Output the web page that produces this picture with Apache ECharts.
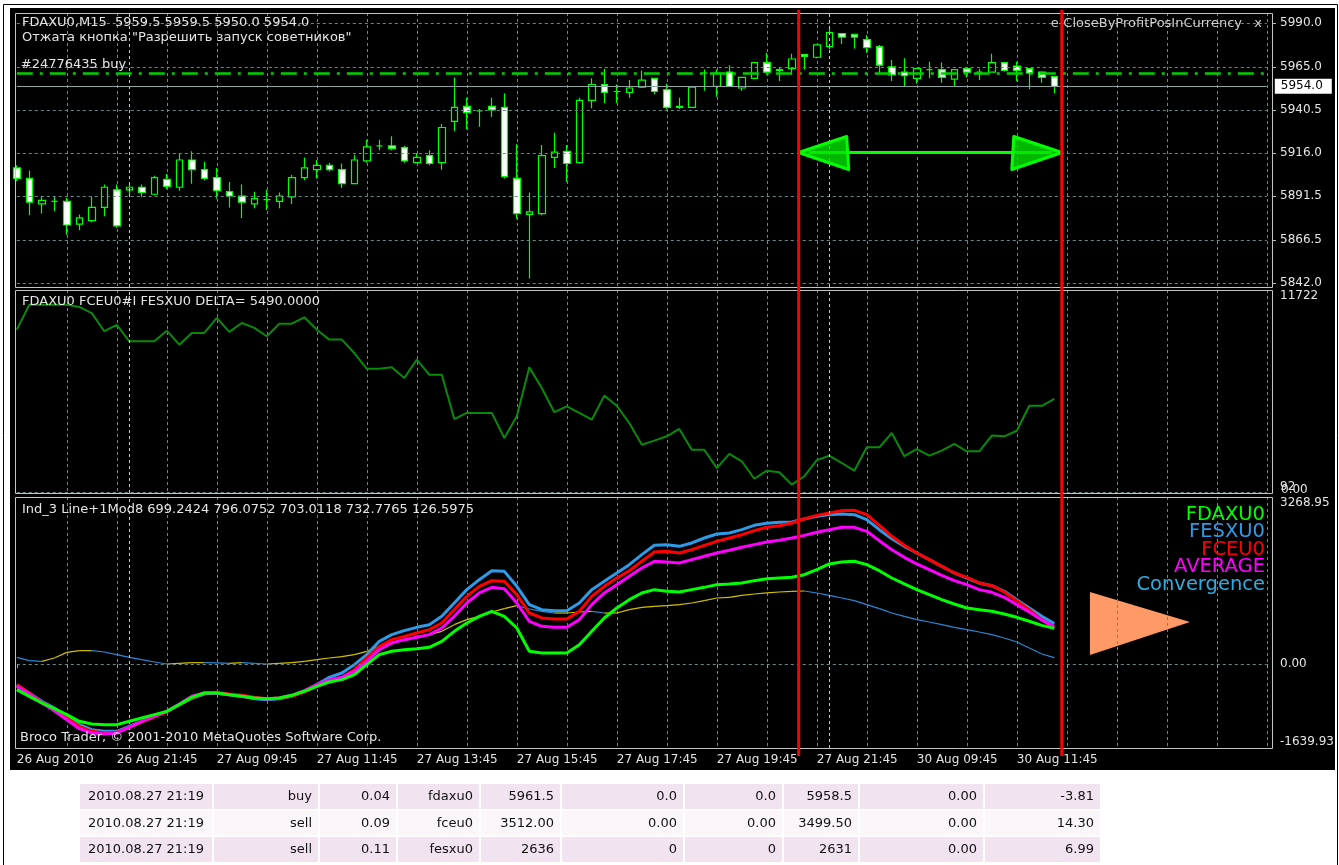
<!DOCTYPE html>
<html>
<head>
<meta charset="utf-8">
<script src="https://cdn.jsdelivr.net/npm/echarts@6/dist/echarts.min.js"></script>
<style>
  html, body { margin: 0; padding: 0; background: #ffffff; }
  #chart { width: 1339px; height: 865px; }
</style>
</head>
<body>
<div id="chart"></div>
<script>
// ---------- FDAXU0, M15 bars (open / high / low / close) ----------
const opens = [5907.5,5901.5,5887.0,5888.5,5888.5,5875.5,5877.5,5885.0,5895.0,5895.0,
  5896.5,5892.5,5901.0,5896.5,5912.0,5906.5,5902.0,5894.0,5891.5,5887.0,
  5889.5,5888.5,5891.0,5902.0,5906.5,5909.0,5906.5,5898.5,5911.5,5920.0,
  5920.0,5919.0,5910.5,5914.5,5910.5,5934.0,5942.5,5940.0,5942.5,5942.0,
  5901.5,5881.0,5881.5,5913.5,5917.0,5910.5,5946.0,5955.0,5951.0,5950.5,
  5953.5,5958.5,5952.0,5942.0,5942.0,5961.5,5954.0,5962.0,5953.0,5958.5,
  5967.5,5963.5,5964.0,5972.0,5970.5,5976.5,5984.0,5983.5,5980.5,5976.5,
  5965.0,5962.0,5958.5,5963.5,5963.5,5958.0,5964.0,5962.0,5962.0,5967.5,
  5965.5,5964.0,5962.0,5959.5];
const highs = [5909.0,5906.0,5891.0,5891.0,5890.5,5881.0,5891.0,5898.0,5898.0,5898.0,
  5898.0,5903.0,5904.0,5915.5,5917.0,5911.0,5907.5,5899.5,5898.0,5894.0,
  5895.0,5893.5,5903.5,5913.5,5912.0,5910.5,5910.0,5915.0,5923.5,5923.5,
  5925.5,5920.0,5916.0,5917.5,5932.5,5959.0,5947.5,5941.0,5947.5,5950.0,
  5921.0,5893.5,5920.5,5927.5,5920.5,5947.5,5958.5,5964.0,5955.0,5957.5,
  5963.0,5958.5,5955.5,5947.5,5953.5,5963.5,5963.5,5966.0,5959.0,5968.0,
  5973.0,5965.0,5972.5,5972.0,5977.5,5987.5,5984.0,5983.5,5983.0,5977.5,
  5969.0,5970.0,5964.0,5968.0,5967.5,5963.5,5965.0,5964.0,5972.5,5967.5,
  5968.0,5964.0,5962.5,5959.5];
const lows = [5900.0,5880.5,5881.5,5883.0,5869.5,5872.0,5876.5,5880.0,5873.5,5892.0,
  5891.0,5892.0,5895.5,5894.5,5898.5,5900.5,5890.0,5885.0,5879.0,5884.5,
  5883.5,5884.5,5887.0,5900.5,5901.5,5905.5,5896.0,5898.5,5910.5,5917.5,
  5917.5,5910.5,5910.5,5909.0,5906.5,5928.5,5929.5,5931.0,5936.5,5901.5,
  5878.5,5844.5,5880.5,5907.5,5899.5,5910.0,5941.5,5944.5,5944.5,5947.5,
  5953.0,5949.5,5941.0,5941.0,5942.0,5951.5,5948.0,5954.0,5951.5,5958.0,
  5961.5,5957.0,5960.5,5963.5,5970.0,5975.0,5978.0,5975.5,5973.0,5961.5,
  5957.0,5954.0,5955.5,5958.5,5956.0,5954.0,5959.0,5957.5,5962.0,5962.5,
  5957.0,5952.5,5956.0,5950.0];
const closes = [5901.5,5888.0,5889.0,5888.5,5875.0,5879.0,5885.0,5896.5,5874.5,5896.5,
  5893.5,5902.0,5897.0,5912.0,5906.5,5901.5,5894.5,5891.5,5888.0,5890.0,
  5889.5,5891.5,5902.0,5907.5,5909.0,5906.5,5898.5,5912.0,5919.5,5920.0,
  5918.5,5911.5,5913.5,5910.0,5930.5,5942.0,5939.0,5940.0,5940.5,5902.5,
  5881.5,5882.5,5914.5,5916.5,5910.0,5946.0,5955.0,5950.5,5951.0,5953.0,
  5957.5,5951.0,5942.0,5942.5,5953.5,5961.5,5961.5,5954.0,5959.0,5967.5,
  5962.0,5963.0,5969.5,5971.0,5977.5,5984.5,5982.0,5982.0,5976.0,5966.0,
  5960.5,5960.0,5964.0,5963.5,5959.0,5963.5,5962.0,5962.0,5967.5,5963.0,
  5963.0,5961.5,5959.0,5954.0];

// ---------- FDAXU0 FCEU0#I FESXU0 DELTA ----------
const deltaValues = [9450,10880,10880,10880,10880,10750,10400,9360,9730,8780,
  8780,8780,9390,8590,9260,9260,10120,9320,9830,9550,
  9070,9790,9790,10160,9450,8880,8880,8110,7210,7210,
  7290,6680,7730,6870,6870,4330,4680,4680,4680,3240,
  4490,7290,6110,4720,5060,4680,4290,5670,5090,4100,
  2860,3090,3340,3760,2570,2570,1520,2330,1910,910,
  1370,1280,570,1050,1970,2230,1810,1370,2710,2710,
  3530,2200,2610,2230,2520,2900,2480,2480,3380,3340,
  3660,5090,5090,5490];
const deltaRange = [92, 11722];

// ---------- Ind_3 Line+1Mod8 ----------
const fdaxu0 = [-499,-629,-760,-871,-988,-1118,-1170,-1183,-1183,-1118,
  -1053,-988,-923,-792,-649,-564,-564,-597,-629,-662,
  -675,-662,-610,-531,-434,-349,-303,-206,-10,186,
  251,283,303,329,446,642,805,935,1033,935,
  707,251,218,218,218,381,642,903,1098,1261,
  1392,1457,1424,1411,1457,1502,1555,1568,1587,1633,
  1672,1685,1698,1750,1848,1959,1998,2011,1946,1828,
  1685,1568,1457,1359,1261,1177,1098,1066,1033,981,
  916,838,759,699.2424];
const fesxu0 = [-401,-564,-727,-857,-1020,-1183,-1281,-1314,-1314,-1216,
  -1118,-1020,-923,-792,-675,-584,-564,-597,-629,-675,
  -694,-675,-629,-531,-401,-258,-173,-10,186,446,
  577,655,720,772,935,1196,1457,1652,1828,1815,
  1522,1164,1066,1046,1046,1196,1457,1620,1783,1946,
  2141,2324,2337,2304,2370,2467,2546,2565,2630,2715,
  2754,2774,2780,2839,2891,2924,2937,2924,2826,2630,
  2454,2304,2174,2044,1913,1783,1685,1587,1535,1424,
  1261,1098,935,796.0752];
const fceu0 = [-401,-564,-747,-890,-1053,-1216,-1314,-1346,-1333,-1236,
  -1131,-1033,-936,-792,-662,-564,-551,-584,-610,-649,
  -675,-662,-629,-545,-434,-323,-258,-108,120,349,
  479,544,609,675,805,1066,1326,1522,1633,1620,
  1359,1000,903,883,883,1033,1326,1522,1685,1828,
  2011,2193,2206,2174,2239,2324,2402,2467,2532,2611,
  2676,2708,2761,2839,2910,2956,3002,3008,2924,2715,
  2500,2324,2174,2044,1913,1783,1698,1587,1535,1411,
  1242,1066,870,703.0118];
const average = [-434,-584,-760,-910,-1086,-1262,-1346,-1366,-1346,-1236,
  -1118,-1020,-923,-779,-629,-564,-564,-597,-629,-662,
  -681,-662,-610,-518,-401,-310,-258,-140,55,283,
  414,479,525,577,707,935,1196,1392,1502,1476,
  1196,838,740,720,720,870,1164,1392,1555,1718,
  1881,2011,1998,1978,2044,2109,2174,2226,2285,2337,
  2389,2422,2467,2519,2578,2630,2676,2676,2598,2415,
  2239,2089,1959,1848,1737,1633,1555,1457,1405,1307,
  1164,1020,864,732.7765];
const convergence = [133,68,55,120,231,264,264,238,186,133,
  88,42,3,16,29,29,23,16,29,16,
  3,16,29,55,88,120,146,186,251,349,
  427,479,525,577,642,772,870,935,1020,1085,
  1144,1079,1033,1000,1000,1020,1033,1000,1000,1066,
  1111,1131,1144,1164,1196,1242,1294,1307,1346,1372,
  1392,1411,1424,1431,1392,1346,1294,1242,1164,1085,
  1000,935,870,824,772,720,675,629,577,512,
  433,316,199,126.5975];
const indRange = [-1639.93, 3268.95];

// ---------- axes, levels, annotations ----------
const timeTickLabels = ['26 Aug 2010','26 Aug 21:45','27 Aug 09:45','27 Aug 11:45','27 Aug 13:45',
  '27 Aug 15:45','27 Aug 17:45','27 Aug 19:45','27 Aug 21:45','30 Aug 09:45','30 Aug 11:45'];
const priceTicks = [5842.0, 5866.5, 5891.5, 5916.0, 5940.5, 5965.0, 5990.0];
const priceRange = [5839.7, 5995.7];
const lastPrice = 5954.0;
const orderPrice = 5961.5;
const orderLabel = '#24776435 buy';
const sessionStarts = [9, 65];          // first bar of a new trading day
const closeMarkers = [62.55, 83.6];     // vertical lines, in bar units
const arrowLevel = 5916.3;
const pointerTriangle = [[85.85, 1411], [85.85, 179], [93.85, 824]];

const legendNames = ['FDAXU0', 'FESXU0', 'FCEU0', 'AVERAGE', 'Convergence'];
const tradeRows = [
  ['2010.08.27 21:19', 'buy',  '0.04', 'fdaxu0', '5961.5',  '0.0',  '0.0',  '5958.5',  '0.00', '-3.81'],
  ['2010.08.27 21:19', 'sell', '0.09', 'fceu0',  '3512.00', '0.00', '0.00', '3499.50', '0.00', '14.30'],
  ['2010.08.27 21:19', 'sell', '0.11', 'fesxu0', '2636',    '0',    '0',    '2631',    '0.00', '6.99']
];

// ---------- bar time axis (08:00-22:00 sessions, plus empty space on the right) ----------
const sessions = [['26 Aug', 19 * 60 + 45, 9], ['27 Aug', 8 * 60, 56], ['30 Aug', 8 * 60, 36]];
const categories = [];
sessions.forEach(([day, start, n]) => {
  for (let k = 0; k < n; k++) {
    const m = start + 15 * k;
    categories.push(day + ' ' + String(Math.floor(m / 60)).padStart(2, '0') + ':' + String(m % 60).padStart(2, '0'));
  }
});

// ---------- look ----------
const FONT = '"DejaVu Sans", Verdana, sans-serif';
const TXT = '#e4e4e4';
const GRIDC = '#668a8a';
const SEPC = '#c8c8c8';
const FRAMEC = '#c4c4c4';
const COL = { fdax: '#00ff00', fesx: '#2f9be8', fceu: '#ff0000', avg: '#ff00ff', up: '#d2c200', down: '#2a8ad8' };

const PANEL_L = 15, PANEL_R = 1272;
const gridLeft = 16.8, gridWidth = 1250;
const panels = [[13, 274], [290, 203], [497, 251]];

const chart = echarts.init(document.getElementById('chart'), null, { renderer: 'canvas', width: 1339, height: 865 });

const blank = categories.map(() => null);
const sepLine = { lineStyle: { color: SEPC, type: [3, 3], width: 1 }, label: { show: false } };

const option = {
  animation: false,
  backgroundColor: '#ffffff',
  grid: panels.map(([top, height]) => ({ left: gridLeft, top, width: gridWidth, height, show: false })),
  xAxis: [0, 1, 2].map(g => ({
    type: 'category', gridIndex: g, data: categories, boundaryGap: false,
    axisLine: { show: false },
    axisTick: { show: g === 2, interval: i => i % 4 === 0, length: 4, lineStyle: { color: '#9c9c9c' } },
    axisLabel: {
      show: g === 2, interval: i => i % 8 === 0,
      formatter: (v, i) => timeTickLabels[i / 8] || '',
      align: 'left', margin: 6, color: TXT, fontFamily: FONT, fontSize: 12
    },
    splitLine: { show: true, interval: i => i > 0 && i % 4 === 0, lineStyle: { color: GRIDC, type: [3, 3], width: 1 } }
  })),
  yAxis: [
    {
      type: 'value', gridIndex: 0, position: 'right', offset: 5.2,
      min: priceRange[0], max: priceRange[1],
      splitLine: { show: false }, axisLine: { show: false },
      axisTick: { show: true, customValues: priceTicks, length: 4, lineStyle: { color: '#bdbdbd' } },
      axisLabel: { customValues: priceTicks, formatter: v => v.toFixed(1), margin: 8, color: TXT, fontFamily: FONT, fontSize: 12 }
    },
    {
      type: 'value', gridIndex: 1, position: 'right', offset: 5.2,
      min: deltaRange[0], max: deltaRange[1],
      splitLine: { show: false }, axisLine: { show: false }, axisTick: { show: false },
      axisLabel: {
        formatter: v => (v === deltaRange[0] || v === deltaRange[1]) ? String(v) : '',
        verticalAlignMinLabel: 'bottom', verticalAlignMaxLabel: 'top',
        margin: 8, color: TXT, fontFamily: FONT, fontSize: 12
      }
    },
    {
      type: 'value', gridIndex: 2, position: 'right', offset: 5.2,
      min: indRange[0], max: indRange[1],
      splitLine: { show: false }, axisLine: { show: false }, axisTick: { show: false },
      axisLabel: {
        formatter: v => (Math.abs(v - indRange[0]) < 1e-6 || Math.abs(v - indRange[1]) < 1e-6 || v === 0) ? v.toFixed(2) : '',
        verticalAlignMinLabel: 'bottom', verticalAlignMaxLabel: 'top',
        margin: 8, color: TXT, fontFamily: FONT, fontSize: 12
      }
    }
  ],
  series: [
    // price grid, day separators, order level and bid line
    {
      type: 'line', xAxisIndex: 0, yAxisIndex: 0, data: blank, z: 1, silent: true, showSymbol: false,
      markLine: {
        symbol: ['none', 'none'], silent: true, animation: false,
        data: [
          ...priceTicks.map(p => ({ yAxis: p, lineStyle: { color: GRIDC, type: [3, 3], width: 1 }, label: { show: false } })),
          ...sessionStarts.map(s => Object.assign({ xAxis: s }, sepLine)),
          {
            yAxis: orderPrice, lineStyle: { color: '#00d000', width: 2.5, type: [16, 7, 3, 7] },
            label: { show: true, position: 'insideStartTop', formatter: orderLabel, color: TXT, fontFamily: FONT, fontSize: 13, distance: [4, 2] }
          },
          {
            yAxis: lastPrice, lineStyle: { color: '#8ea6a6', width: 1, type: 'solid' },
            label: { show: true, position: 'end', formatter: lastPrice.toFixed(1), distance: 8,
              backgroundColor: '#ffffff', color: '#000000', padding: [2, 9, 1, 6], fontFamily: FONT, fontSize: 12 }
          }
        ]
      }
    },
    {
      type: 'candlestick', xAxisIndex: 0, yAxisIndex: 0, z: 3, barWidth: 7,
      data: opens.map((o, i) => [o, closes[i], lows[i], highs[i]]),
      itemStyle: { color: '#000000', color0: '#ffffff', borderColor: COL.fdax, borderColor0: COL.fdax, borderColorDoji: COL.fdax, borderWidth: 1.2 }
    },
    // delta panel
    {
      type: 'line', xAxisIndex: 1, yAxisIndex: 1, data: blank, z: 1, silent: true, showSymbol: false,
      markLine: {
        symbol: ['none', 'none'], silent: true, animation: false,
        data: [
          ...sessionStarts.map(s => Object.assign({ xAxis: s }, sepLine)),
          { yAxis: deltaRange[0] + 30, lineStyle: { color: GRIDC, type: [3, 3], width: 1 }, label: { show: false } }
        ]
      }
    },
    {
      type: 'line', xAxisIndex: 1, yAxisIndex: 1, data: deltaValues, z: 3, showSymbol: false,
      lineStyle: { color: '#0a8a0a', width: 2 }
    },
    // Ind_3 panel
    {
      type: 'line', xAxisIndex: 2, yAxisIndex: 2, data: blank, z: 1, silent: true, showSymbol: false,
      markLine: {
        symbol: ['none', 'none'], silent: true, animation: false,
        data: [
          ...sessionStarts.map(s => Object.assign({ xAxis: s }, sepLine)),
          { yAxis: 0, lineStyle: { color: GRIDC, type: [3, 3], width: 1 }, label: { show: false } }
        ]
      }
    },
    {
      // convergence: yellow while rising, blue while falling
      type: 'custom', xAxisIndex: 2, yAxisIndex: 2, z: 2,
      data: convergence.slice(0, -1).map((v, i) => [i, v, convergence[i + 1]]),
      encode: { x: 0, y: [1, 2] },
      renderItem: (params, api) => {
        const i = api.value(0), a = api.value(1), b = api.value(2);
        const p0 = api.coord([i, a]), p1 = api.coord([i + 1, b]);
        return { type: 'line', shape: { x1: p0[0], y1: p0[1], x2: p1[0], y2: p1[1] },
          style: { stroke: b >= a ? COL.up : COL.down, lineWidth: 1.2 } };
      }
    },
    { type: 'line', xAxisIndex: 2, yAxisIndex: 2, data: fesxu0, z: 3, showSymbol: false, lineStyle: { color: COL.fesx, width: 3 } },
    { type: 'line', xAxisIndex: 2, yAxisIndex: 2, data: fceu0,  z: 4, showSymbol: false, lineStyle: { color: COL.fceu, width: 3 } },
    { type: 'line', xAxisIndex: 2, yAxisIndex: 2, data: average, z: 5, showSymbol: false, lineStyle: { color: COL.avg, width: 3 } },
    { type: 'line', xAxisIndex: 2, yAxisIndex: 2, data: fdaxu0, z: 6, showSymbol: false, lineStyle: { color: COL.fdax, width: 3 } }
  ]
};
chart.setOption(option);

// ---------- overlays placed through the axes ----------
function xAt(axis, idx) {
  const i0 = Math.floor(idx), f = idx - i0;
  const a = chart.convertToPixel({ xAxisIndex: axis }, i0);
  const b = chart.convertToPixel({ xAxisIndex: axis }, i0 + 1);
  return a + (b - a) * f;
}
const yAt = (axis, v) => chart.convertToPixel({ yAxisIndex: axis }, v);

const g = [];
const text = (t, x, y, opts) => g.push({
  type: 'text', z: 40, silent: true,
  style: Object.assign({ text: t, x, y, fill: TXT, font: '13px ' + FONT, align: 'left', verticalAlign: 'middle' }, opts || {})
});

// window background and border
g.push({ type: 'rect', z: -20, silent: true, shape: { x: 3.5, y: 4.5, width: 1334, height: 880 }, style: { fill: '#ffffff', stroke: '#000000', lineWidth: 1 } });
g.push({ type: 'rect', z: -10, silent: true, shape: { x: 10, y: 8, width: 1325, height: 762 }, style: { fill: '#000000' } });

// panel frames
panels.forEach(([top, height]) => g.push({
  type: 'rect', z: 30, silent: true,
  shape: { x: PANEL_L + 0.5, y: top + 0.5, width: PANEL_R - PANEL_L, height: height },
  style: { fill: null, stroke: FRAMEC, lineWidth: 1 }
}));

// panel captions
text('FDAXU0,M15  ' + [opens[83], highs[83], lows[83], closes[83]].map(v => v.toFixed(1)).join(' '), 22, 23);
text('Отжата кнопка "Разрешить запуск советников"', 22, 38);
text('e-CloseByProfitPosInCurrency', 1242, 24, { align: 'right', fill: '#cfcfcf' });
text('x', 1258, 24, { align: 'center', fill: '#cfcfcf' });
text('FDAXU0 FCEU0#I FESXU0 DELTA= ' + deltaValues[deltaValues.length - 1].toFixed(4), 22, 302);
text('Ind_3 Line+1Mod8 ' + [fdaxu0, fesxu0, fceu0, average, convergence].map(s => s[s.length - 1].toFixed(4)).join(' '), 22, 510);
text('Broco Trader, \u00A9 2001-2010 MetaQuotes Software Corp.', 20, 738);
text('0.00', 1281, 490, { font: '12px ' + FONT });

// indicator legend
const legendColors = [COL.fdax, COL.fesx, COL.fceu, COL.avg, '#2eaee0'];
legendNames.forEach((n, k) => text(n, 1265, 515 + k * 17.4, { align: 'right', fill: legendColors[k], font: '19.5px ' + FONT }));

// orange pointer in the indicator panel
g.push({
  type: 'polygon', z: -1, silent: true,
  shape: { points: pointerTriangle.map(([i, v]) => [xAt(2, i), yAt(2, v)]) },
  style: { fill: '#ff9a66' }
});

// green two-headed arrow between the close markers
const ay = yAt(0, arrowLevel);
const ax1 = xAt(0, closeMarkers[0]), ax2 = xAt(0, closeMarkers[1]);
g.push({ type: 'line', z: 45, silent: true, shape: { x1: ax1 + 10, y1: ay, x2: ax2 - 10, y2: ay }, style: { stroke: '#00ff00', lineWidth: 3 } });
[[ax1, 1], [ax2, -1]].forEach(([tx, dir]) => g.push({
  type: 'polygon', z: 45, silent: true,
  shape: { points: [[tx, ay], [tx + dir * 48, ay - 16], [tx + dir * 50, ay + 17]] },
  style: { fill: 'rgba(0,230,0,0.8)', stroke: '#00ff00', lineWidth: 3, lineJoin: 'round' }
}));

// red close markers spanning all panels
const yTop = yAt(0, priceRange[1]) - 3, yBot = yAt(2, indRange[0]) + 8;
closeMarkers.forEach(m => {
  const x = xAt(0, m);
  g.push({ type: 'line', z: 50, silent: true, shape: { x1: x, y1: yTop, x2: x, y2: yBot }, style: { stroke: '#ff0000', lineWidth: 3 } });
});

// trade table
const colBoxes = [[80, 212], [214, 318], [320, 396], [398, 479], [481, 560], [562, 683], [685, 782], [784, 858], [860, 983], [985, 1100]];
const rowBg = ['#f1e3ef', '#fbf6fa', '#f1e3ef'];
tradeRows.forEach((row, r) => {
  const y0 = 784 + r * 26.5;
  colBoxes.forEach(([x0, x1], c) => {
    g.push({ type: 'rect', z: 5, silent: true, shape: { x: x0, y: y0, width: x1 - x0, height: 25 }, style: { fill: rowBg[r] } });
    const left = c === 0;
    text(row[c], left ? x0 + 8 : x1 - 6, y0 + 13, { fill: '#111111', align: left ? 'left' : 'right', font: '13px ' + FONT });
  });
});

chart.setOption({ graphic: { elements: g } });
</script>
</body>
</html>
